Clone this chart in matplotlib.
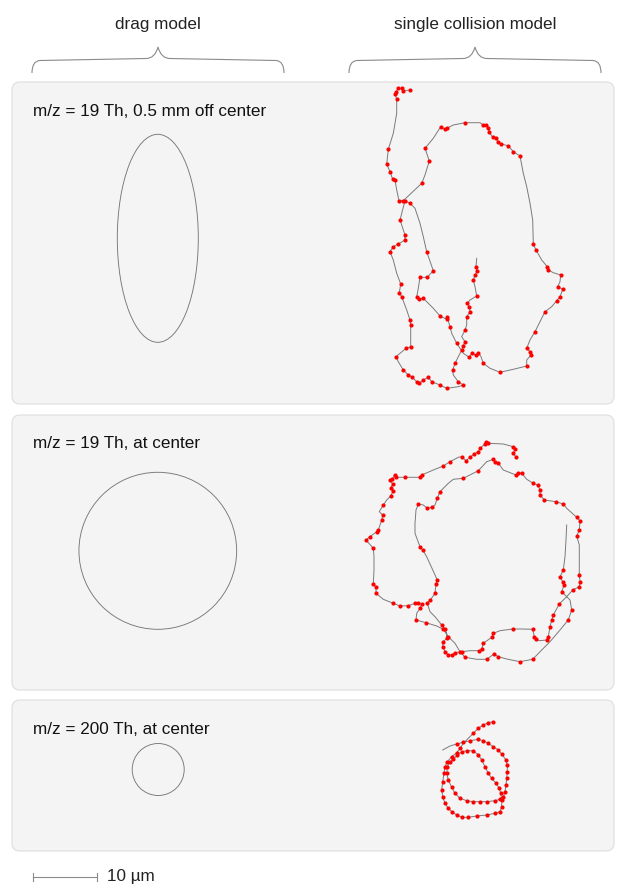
import matplotlib.pyplot as plt
from matplotlib.patches import FancyBboxPatch, Ellipse, PathPatch
from matplotlib.path import Path

plt.rcParams['font.family'] = ['Liberation Sans', 'DejaVu Sans']

# column headings
columns = ["drag model", "single collision model"]
column_x = [158, 475]

# one row per ion / starting position
row_labels = ["m/z = 19 Th, 0.5 mm off center",
              "m/z = 19 Th, at center",
              "m/z = 200 Th, at center"]

# drag model: closed orbits (center x, center y, width, height), 6.4 px per um
drag_cx = [157.8, 157.8, 158.2]
drag_cy = [238.3, 550.8, 769.5]
drag_w = [81.0, 157.7, 52.0]
drag_h = [208.0, 157.0, 52.0]

# single collision model: traced ion paths
traj1_x = [410.0, 403.3, 401.7, 398.3, 396.0, 395.0, 396.7, 396.7, 393.3, 388.3,
           386.7, 390.0, 392.7, 395.0, 396.7, 399.0, 403.3, 421.7, 425.0, 429.3,
           425.0, 433.3, 440.7, 445.0, 446.7, 453.3, 465.0, 480.0, 483.3, 486.0,
           488.3, 489.0, 492.7, 496.0, 497.7, 500.7, 508.3, 513.3, 520.0, 523.3,
           526.7, 530.0, 532.7, 533.3, 536.0, 541.7, 547.3, 548.3, 553.3, 560.7,
           560.0, 557.7, 562.7, 560.0, 556.7, 551.7, 545.0, 541.7, 538.3, 535.0,
           530.0, 526.7, 530.0, 531.0, 526.7, 526.7, 513.3, 500.0, 490.0, 483.3,
           481.0, 478.3, 476.0, 471.7, 469.3, 463.3, 456.7, 451.7, 450.0, 447.3,
           446.7, 440.0, 433.3, 423.3, 419.3, 416.7, 418.3, 420.0, 427.3, 433.3,
           430.7, 426.7, 423.3, 420.0, 415.0, 410.0, 405.0, 401.7, 400.0, 405.0,
           405.0, 398.3, 393.3, 390.0, 393.3, 396.7, 400.7, 399.3, 401.7, 406.7,
           410.0, 410.7, 410.7, 406.0, 396.0, 398.3, 403.3, 408.3, 411.7, 416.7,
           419.3, 423.3, 428.3, 431.7, 440.0, 446.7, 458.3, 463.3, 458.3, 453.3,
           452.7, 455.0, 458.3, 461.7, 463.3, 465.0, 461.7, 465.0, 466.7, 466.7,
           470.0, 469.3, 467.3, 470.0, 476.7, 475.0, 473.3, 475.0, 477.3, 476.0,
           476.7]
traj1_y = [90.0, 90.7, 88.3, 88.3, 91.7, 94.0, 99.3, 113.3, 133.3, 149.3,
           164.0, 171.7, 179.3, 180.0, 190.0, 200.7, 200.7, 183.3, 175.0, 161.0,
           148.3, 138.3, 126.7, 129.3, 128.3, 125.0, 122.7, 122.7, 125.0, 125.0,
           127.7, 131.7, 137.3, 138.3, 141.7, 144.0, 145.7, 151.7, 156.0, 173.3,
           186.7, 203.3, 220.0, 244.0, 250.0, 260.0, 266.7, 270.0, 272.7, 275.0,
           281.7, 286.7, 289.3, 296.7, 300.7, 306.7, 311.7, 318.3, 325.0, 331.7,
           340.0, 348.3, 351.7, 355.0, 360.0, 366.0, 369.3, 372.3, 368.3, 363.3,
           356.7, 352.7, 355.0, 353.3, 357.3, 353.3, 343.3, 333.3, 326.7, 317.3,
           319.3, 316.0, 308.3, 298.3, 299.3, 296.7, 288.3, 277.3, 277.3, 270.7,
           263.3, 251.7, 236.7, 223.3, 208.3, 203.3, 200.7, 213.3, 220.0, 235.0,
           240.0, 244.0, 246.7, 251.7, 260.0, 273.3, 284.0, 292.7, 296.7, 310.0,
           320.0, 325.0, 346.7, 348.3, 356.7, 361.7, 370.0, 375.0, 376.7, 381.7,
           383.3, 380.0, 377.3, 381.7, 385.0, 388.3, 386.7, 385.0, 381.7, 375.0,
           370.0, 363.3, 356.7, 350.0, 345.7, 341.7, 336.7, 330.0, 325.0, 316.7,
           311.7, 306.7, 303.3, 300.0, 296.0, 286.7, 280.0, 275.0, 270.7, 266.7,
           258.3]
# path vertices with no collision
traj1_plain = [7, 8, 14, 18, 21, 25, 27, 39, 40, 41, 42, 45, 48, 50, 55, 57, 58,
               60, 64, 66, 68, 70, 75, 77, 82, 86, 90, 92, 93, 94, 97, 104, 105,
               109, 115, 126, 129, 132, 136, 138, 143, 145, 150]

traj2_x = [515.7, 513.3, 515.0, 513.3, 503.3, 488.3, 486.0, 485.0, 480.0, 478.3,
           474.0, 470.0, 466.0, 461.7, 458.3, 450.0, 443.3, 433.3, 421.7, 420.0,
           405.0, 396.0, 395.0, 391.7, 390.0, 392.7, 390.7, 393.3, 390.7, 386.7,
           383.3, 379.3, 382.7, 381.7, 378.3, 376.7, 370.0, 366.0, 373.3, 374.0,
           374.0, 373.3, 376.0, 376.0, 383.3, 393.3, 400.0, 408.3, 415.0, 418.3,
           421.7, 420.0, 416.7, 416.0, 426.0, 436.7, 443.3, 448.3, 455.0, 460.0,
           465.0, 476.7, 486.7, 494.0, 498.3, 506.7, 520.0, 532.7, 541.7, 550.0,
           560.0, 568.3, 571.7, 570.0, 566.7, 572.7, 579.3, 580.0, 579.3, 579.3,
           576.7, 579.3, 580.0, 576.7, 566.7, 563.3, 556.0, 544.3, 540.0, 540.0,
           537.7, 533.3, 526.7, 521.7, 518.3, 516.0, 503.3, 498.3, 495.0, 493.3,
           486.7, 478.3, 463.3, 453.3, 448.3, 440.0, 437.3, 435.0, 431.7, 427.3,
           423.3, 418.3, 416.0, 415.0, 415.0, 420.0, 422.7, 426.7, 432.7, 437.3,
           436.0, 435.0, 432.7, 430.0, 427.3, 430.0, 435.0, 441.7, 445.0, 446.7,
           446.7, 443.3, 442.7, 445.0, 448.3, 451.7, 455.0, 461.7, 470.0, 479.3,
           481.7, 483.3, 491.7, 493.3, 500.0, 512.7, 521.7, 532.7, 534.3, 536.0,
           539.3, 546.7, 548.3, 550.0, 551.7, 553.3, 559.3, 566.7, 561.7, 564.0,
           562.7, 560.0, 563.3, 565.0, 566.0, 566.7]
traj2_y = [456.7, 453.3, 449.3, 446.7, 444.0, 443.3, 441.7, 444.0, 448.3, 451.7,
           454.0, 457.3, 460.7, 456.7, 457.3, 461.7, 466.0, 470.0, 475.0, 477.3,
           477.3, 477.3, 475.0, 479.3, 480.0, 484.0, 488.3, 490.7, 496.0, 500.0,
           505.0, 511.7, 515.0, 520.0, 530.0, 531.7, 536.7, 540.0, 548.3, 556.7,
           570.0, 584.0, 586.7, 593.3, 599.3, 603.3, 606.0, 605.7, 603.3, 603.3,
           604.0, 608.3, 613.3, 620.0, 622.7, 626.0, 629.3, 636.7, 643.3, 651.7,
           657.3, 659.3, 659.3, 654.0, 656.7, 659.0, 661.7, 659.3, 650.0, 641.7,
           630.0, 620.0, 610.0, 600.0, 596.7, 590.0, 586.7, 581.7, 575.0, 545.0,
           536.0, 530.0, 520.7, 517.3, 508.3, 504.0, 501.7, 500.0, 495.0, 490.0,
           485.0, 483.3, 479.3, 473.3, 472.7, 475.0, 470.0, 463.3, 461.7, 459.3,
           461.7, 470.7, 478.3, 479.3, 483.3, 491.7, 498.3, 505.0, 507.3, 508.3,
           505.0, 504.0, 510.0, 523.3, 533.3, 546.7, 550.0, 556.7, 570.0, 580.0,
           584.0, 593.3, 596.7, 600.0, 603.3, 611.7, 616.7, 625.0, 629.3, 633.3,
           638.3, 641.7, 646.7, 651.7, 655.0, 655.0, 652.7, 651.7, 650.7, 650.7,
           649.3, 643.3, 637.3, 633.3, 630.7, 629.0, 629.0, 629.3, 636.7, 639.3,
           640.7, 640.0, 636.7, 626.7, 620.0, 615.0, 604.0, 596.7, 591.7, 585.0,
           581.7, 576.7, 570.0, 556.7, 540.0, 525.0]
traj2_plain = [4, 14, 17, 29, 31, 39, 40, 44, 52, 55, 58, 61, 65, 68, 69, 70, 73,
               74, 79, 84, 92, 96, 100, 103, 104, 107, 110, 112, 113, 114, 117,
               118, 122, 125, 126, 129, 138, 144, 146, 150, 157, 163, 164, 165]

traj3_x = [442.7, 450.0, 456.7, 463.3, 470.0, 478.3, 483.3, 488.3, 493.3, 498.3,
           501.7, 506.0, 507.3, 507.3, 506.7, 506.0, 505.0, 503.3, 500.0, 495.0,
           486.7, 480.0, 473.3, 466.7, 460.0, 455.0, 451.7, 448.3, 446.7, 447.3,
           450.0, 453.3, 457.3, 461.7, 466.7, 473.3, 478.3, 481.7, 485.0, 488.3,
           491.7, 496.0, 499.3, 500.7, 501.7, 501.7, 500.0, 495.0, 486.7, 476.7,
           468.3, 461.7, 456.7, 451.7, 448.3, 445.0, 442.7, 441.7, 442.7, 444.0,
           445.0, 447.3, 451.7, 456.7, 460.0, 463.3, 468.3, 473.3, 478.3, 483.3,
           488.3, 492.7]
traj3_y = [750.0, 746.0, 744.0, 742.3, 740.7, 739.3, 740.7, 743.3, 746.7, 750.0,
           754.0, 760.0, 765.0, 771.7, 778.3, 785.0, 791.7, 797.3, 799.3, 800.7,
           801.7, 801.7, 801.7, 800.7, 798.3, 793.3, 787.3, 780.0, 773.3, 766.7,
           761.7, 759.3, 755.0, 751.7, 750.7, 750.7, 755.0, 760.0, 766.7, 773.3,
           778.3, 783.3, 788.3, 793.3, 800.0, 806.7, 811.7, 813.3, 815.0, 816.0,
           817.3, 817.3, 815.0, 811.7, 808.3, 803.3, 796.7, 790.0, 781.7, 773.3,
           766.7, 761.7, 756.7, 752.7, 748.3, 743.3, 738.3, 733.3, 728.3, 725.0,
           722.7, 721.7]
traj3_plain = [0, 1, 65, 66]

trajectories = [(traj1_x, traj1_y, traj1_plain),
                (traj2_x, traj2_y, traj2_plain),
                (traj3_x, traj3_y, traj3_plain)]

# panel boxes (top, bottom) and scale bar
panel_top = [82, 415, 700]
panel_bottom = [404, 690, 851]
scale_um = 10
px_per_um = 6.4

W, H = 617, 885
fig = plt.figure(figsize=(W / 100, H / 100), dpi=100)
ax = fig.add_axes([0, 0, 1, 1])
ax.set_xlim(0, W)
ax.set_ylim(H, 0)
ax.axis('off')

grey = '#8a8a8a'
fs = 12.3

# headings with curly braces underneath
for name, cx in zip(columns, column_x):
    ax.text(cx, 24, name, ha='center', va='center', fontsize=fs, color='#222222')
    x0, x1 = cx - 126, cx + 126
    verts = [(x0, 73), (x0, 61), (x0 + 8, 60.5), (cx - 12, 58.5), (cx - 3, 58.5), (cx, 47),
             (cx + 3, 58.5), (cx + 12, 58.5), (x1 - 8, 60.5), (x1, 61), (x1, 73)]
    codes = [Path.MOVETO, Path.CURVE3, Path.CURVE3, Path.LINETO, Path.CURVE3, Path.CURVE3,
             Path.CURVE3, Path.CURVE3, Path.LINETO, Path.CURVE3, Path.CURVE3]
    ax.add_patch(PathPatch(Path(verts, codes), fill=False, edgecolor=grey, lw=0.8))

for i, label in enumerate(row_labels):
    top, bottom = panel_top[i], panel_bottom[i]
    ax.add_patch(FancyBboxPatch((12, top), 602, bottom - top,
                                boxstyle='round,pad=0,rounding_size=8',
                                facecolor='#f4f4f4', edgecolor='#dedede', lw=0.8, zorder=0))
    ax.text(33, top + 29, label, ha='left', va='center', fontsize=fs, color='#111111')

    ax.add_patch(Ellipse((drag_cx[i], drag_cy[i]), drag_w[i], drag_h[i],
                         fill=False, edgecolor='#777777', lw=0.65, zorder=2))

    tx, ty, plain = trajectories[i]
    ax.plot(tx, ty, color='#7a7a7a', lw=0.7, zorder=3)
    hx = [x for k, x in enumerate(tx) if k not in plain]
    hy = [y for k, y in enumerate(ty) if k not in plain]
    ax.plot(hx, hy, 'o', color='#ff0000', ms=3.0, mew=0, zorder=4)

# scale bar
bar_len = scale_um * px_per_um
ax.plot([33, 33 + bar_len], [877, 877], color=grey, lw=0.8)
ax.plot([33, 33], [873, 881], color=grey, lw=0.8)
ax.plot([33 + bar_len, 33 + bar_len], [873, 881], color=grey, lw=0.8)
ax.text(107, 877, f"{scale_um} µm", ha='left', va='center', fontsize=fs, color='#222222')

fig.savefig('out.png', dpi=100)
